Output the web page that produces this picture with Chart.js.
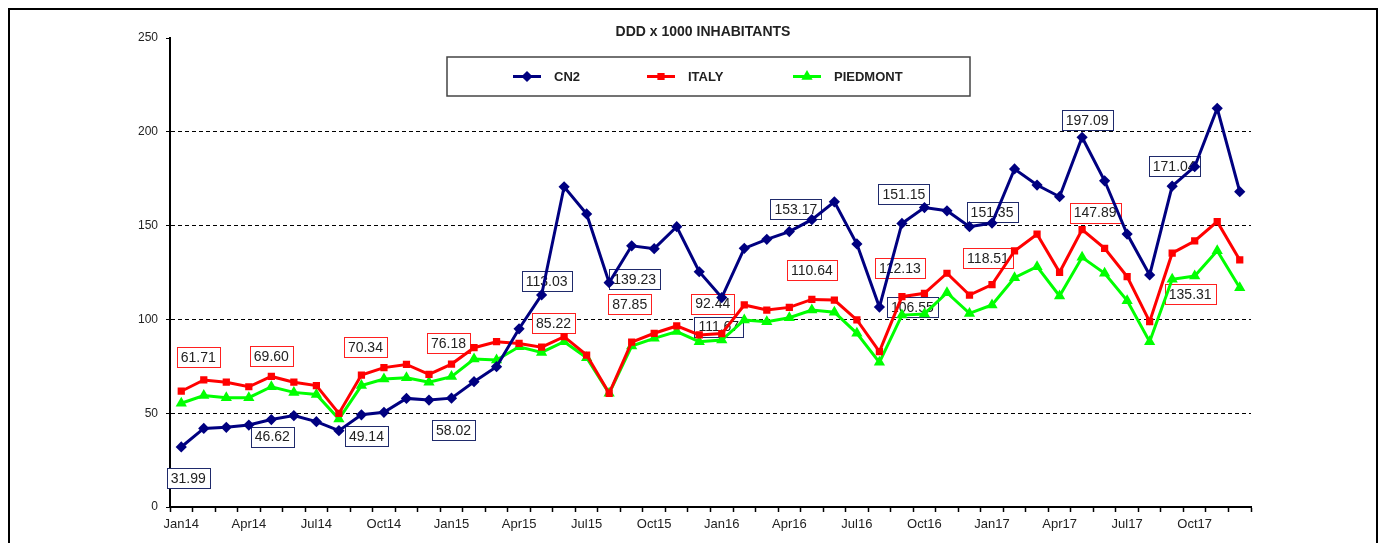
<!DOCTYPE html>
<html>
<head>
<meta charset="utf-8">
<title>DDD x 1000 INHABITANTS</title>
<script src="https://cdn.jsdelivr.net/npm/chart.js@4.4.1/dist/chart.umd.min.js"></script>
<style>
    html, body { margin: 0; padding: 0; background: #fff; }
    #wrap { position: relative; width: 1381px; height: 543px; overflow: hidden; }
    #frame { position: absolute; left: 8px; top: 8px; width: 1370px; height: 600px; border: 2px solid #000; box-sizing: border-box; pointer-events: none; }
    canvas { position: absolute; left: 0; top: 0; }
</style>
</head>
<body>
<div id="wrap">
    <canvas id="dddChart" width="1381" height="543"></canvas>
    <div id="frame"></div>
</div>
<script>
// months Jan14 .. Dec17
const months = [
    'Jan14','Feb14','Mar14','Apr14','May14','Jun14','Jul14','Aug14','Sep14','Oct14','Nov14','Dec14',
    'Jan15','Feb15','Mar15','Apr15','May15','Jun15','Jul15','Aug15','Sep15','Oct15','Nov15','Dec15',
    'Jan16','Feb16','Mar16','Apr16','May16','Jun16','Jul16','Aug16','Sep16','Oct16','Nov16','Dec16',
    'Jan17','Feb17','Mar17','Apr17','May17','Jun17','Jul17','Aug17','Sep17','Oct17','Nov17','Dec17'
];

const cn2 = [
    31.99, 41.9, 42.5, 43.7, 46.62, 48.7, 45.5, 40.7, 49.14, 50.5, 57.9, 57.0,
    58.02, 66.8, 74.8, 95.0, 113.03, 170.7, 156.2, 119.6, 139.23, 137.7, 149.4, 125.4,
    111.67, 137.9, 142.7, 146.8, 153.17, 162.7, 140.2, 106.55, 151.15, 159.6, 157.9, 149.4,
    151.35, 180.2, 171.6, 165.4, 197.09, 173.9, 145.5, 123.7, 171.04, 181.4, 212.5, 168.1
];

const italy = [
    61.71, 67.7, 66.5, 64.1, 69.60, 66.5, 64.7, 49.9, 70.34, 74.3, 76.0, 70.7,
    76.18, 84.9, 88.1, 87.2, 85.22, 90.8, 81.0, 60.6, 87.85, 92.6, 96.5, 91.7,
    92.44, 107.7, 105.0, 106.4, 110.64, 110.3, 99.7, 82.8, 112.13, 113.9, 124.6, 113.0,
    118.51, 136.5, 145.4, 125.1, 147.89, 137.9, 122.8, 98.8, 135.31, 141.8, 152.1, 131.7
];

const piedmont = [
    55.3, 59.4, 58.3, 58.3, 64.1, 61.1, 60.0, 46.9, 64.7, 68.2, 68.9, 66.5,
    69.5, 78.9, 78.4, 85.4, 82.4, 88.1, 79.6, 60.6, 85.8, 89.9, 93.5, 88.1,
    89.0, 99.7, 98.8, 100.9, 105.0, 103.8, 92.6, 77.1, 102.3, 102.9, 114.2, 103.2,
    107.7, 122.2, 128.1, 112.5, 133.1, 124.6, 110.0, 88.1, 121.4, 123.1, 136.6, 116.9
];

const yTicks = [0, 50, 100, 150, 200, 250];

// which points get a boxed value label
const cn2Labelled = [0, 4, 8, 12, 16, 20, 24, 28, 31, 32, 36, 40, 44];
const italyLabelled = [0, 4, 8, 12, 16, 20, 24, 28, 32, 36, 40, 44];

// label box offsets from the point (px), same order as above
const cn2LabelShift = [
    [7, 31], [1, 17], [5, 21], [2, 32], [5, -14], [3, 33], [-3, 29],
    [-16, -11], [33, 0], [2, -29], [0, -11], [5, -17], [2, -20]
];
const italyLabelShift = [
    [17, -34], [0, -20], [4, -28], [-3, -21], [12, -24], [-2, -38], [-9, -30],
    [0, -29], [-2, -29], [-4, -27], [13, -17], [18, 41]
];

const FONT = '"Liberation Sans", Arial, sans-serif';

// titel + legenda in kader
const headerPlugin = {
    id: 'header',
    afterDraw(chart) {
        const ctx = chart.ctx;
        ctx.save();
        ctx.fillStyle = '#222';
        ctx.font = 'bold 14px ' + FONT;
        ctx.textAlign = 'center';
        ctx.textBaseline = 'middle';
        ctx.fillText('DDD x 1000 INHABITANTS', 703, 32);

        // legend box
        ctx.fillStyle = '#fff';
        ctx.fillRect(447, 57, 523, 39);
        ctx.strokeStyle = '#444';
        ctx.lineWidth = 1.5;
        ctx.strokeRect(447, 57, 523, 39);

        const entries = [[513, 554], [647, 688], [793, 834]];
        chart.data.datasets.forEach((ds, i) => {
            const [lx, tx] = entries[i];
            const y = 76.5;
            ctx.strokeStyle = ds.borderColor;
            ctx.lineWidth = 3;
            ctx.beginPath();
            ctx.moveTo(lx, y);
            ctx.lineTo(lx + 28, y);
            ctx.stroke();
            Chart.helpers.drawPoint(ctx, {
                pointStyle: ds.pointStyle, radius: ds.pointRadius, borderWidth: 1, rotation: 0
            }, lx + 14, y);
            ctx.fillStyle = ds.borderColor;
            ctx.fill();
            ctx.fillStyle = '#222';
            ctx.font = 'bold 13px ' + FONT;
            ctx.textAlign = 'left';
            ctx.fillText(ds.label, tx, y + 1);
        });
        ctx.restore();
    }
};

// boxed value labels, under the lines like in the original
const valueBoxPlugin = {
    id: 'valueBoxes',
    beforeDatasetsDraw(chart) {
        const ctx = chart.ctx;
        const groups = [
            { ds: 0, idx: cn2Labelled, shift: cn2LabelShift, border: '#1f2a6b' },
            { ds: 1, idx: italyLabelled, shift: italyLabelShift, border: '#ff2020' }
        ];
        ctx.save();
        ctx.font = '14px ' + FONT;
        ctx.textAlign = 'center';
        ctx.textBaseline = 'middle';
        groups.forEach(g => {
            const meta = chart.getDatasetMeta(g.ds);
            const values = chart.data.datasets[g.ds].data;
            g.idx.forEach((i, k) => {
                const pt = meta.data[i];
                const x = pt.x + g.shift[k][0];
                const y = pt.y + g.shift[k][1];
                const txt = values[i].toFixed(2);
                const w = Math.round(ctx.measureText(txt).width + 8);
                const h = 20;
                const bx = Math.round(x - w / 2);
                const by = Math.round(y - h / 2);
                ctx.fillStyle = '#fff';
                ctx.fillRect(bx, by, w, h);
                ctx.strokeStyle = g.border;
                ctx.lineWidth = 1;
                ctx.strokeRect(bx + 0.5, by + 0.5, w, h);
                ctx.fillStyle = '#222';
                ctx.fillText(txt, x, y + 1);
            });
        });
        ctx.restore();
    }
};

new Chart(document.getElementById('dddChart'), {
    type: 'line',
    data: {
        labels: months,
        datasets: [
            {
                label: 'CN2',
                data: cn2,
                borderColor: '#000080',
                backgroundColor: '#000080',
                borderWidth: 3,
                pointStyle: 'rectRot',
                pointRadius: 3.5,
                tension: 0
            },
            {
                label: 'ITALY',
                data: italy,
                borderColor: '#ff0000',
                backgroundColor: '#ff0000',
                borderWidth: 3,
                pointStyle: 'rect',
                pointRadius: 3,
                tension: 0
            },
            {
                label: 'PIEDMONT',
                data: piedmont,
                borderColor: '#00ff00',
                backgroundColor: '#00ff00',
                borderWidth: 3,
                pointStyle: 'triangle',
                pointRadius: 3.5,
                tension: 0
            }
        ]
    },
    options: {
        responsive: false,
        animation: false,
        devicePixelRatio: 1,
        layout: { padding: { top: 38, right: 130, bottom: 0, left: 0 } },
        plugins: {
            legend: { display: false },
            title: { display: false },
            tooltip: { enabled: false }
        },
        scales: {
            x: {
                offset: true,
                grid: {
                    offset: true,
                    drawOnChartArea: false,
                    drawTicks: true,
                    tickLength: 5,
                    tickColor: '#000',
                    tickWidth: 1.5
                },
                border: { display: true, color: '#000', width: 2 },
                ticks: {
                    autoSkip: false,
                    maxRotation: 0,
                    padding: 5,
                    color: '#222',
                    font: { family: FONT, size: 13 },
                    callback: (v, i) => (i % 3 === 0 ? months[i] : '')
                },
                afterFit: s => { s.height = 36; }
            },
            y: {
                min: 0,
                max: 250,
                afterBuildTicks: s => { s.ticks = yTicks.map(v => ({ value: v })); },
                grid: {
                    color: ctx => (ctx.tick && (ctx.tick.value === 0 || ctx.tick.value === 250)) ? 'rgba(0,0,0,0)' : '#000',
                    lineWidth: 1,
                    drawTicks: true,
                    tickLength: 4,
                    tickColor: '#000',
                    tickBorderDash: []
                },
                border: { display: true, color: '#000', width: 2, dash: [4, 3] },
                ticks: {
                    padding: 8,
                    color: '#222',
                    font: { family: FONT, size: 12 }
                },
                afterFit: s => { s.width = 170; }
            }
        }
    },
    plugins: [headerPlugin, valueBoxPlugin]
});
</script>
</body>
</html>
